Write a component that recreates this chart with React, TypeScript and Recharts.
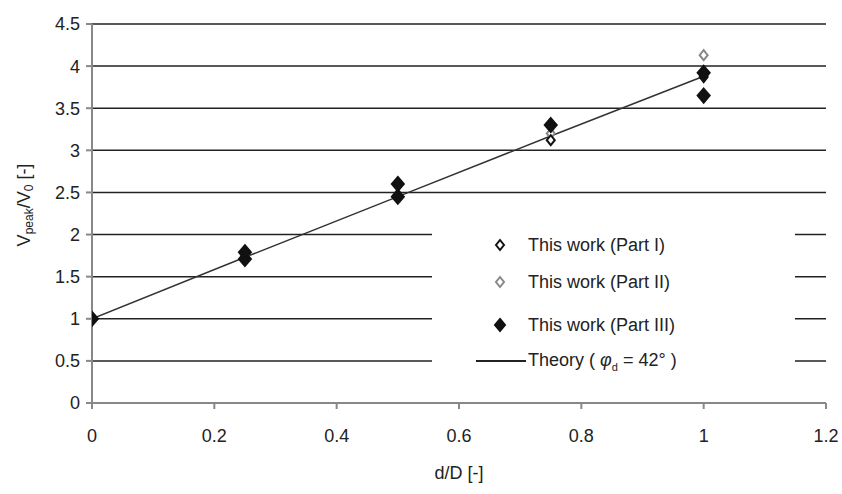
import React from 'react';
import { ComposedChart, Scatter, Line, XAxis, YAxis, CartesianGrid } from 'recharts';

const xTicks = [0, 0.2, 0.4, 0.6, 0.8, 1, 1.2];
const yTicks = [0, 0.5, 1, 1.5, 2, 2.5, 3, 3.5, 4, 4.5];

// This work (Part I) - open black diamonds
const partI = [
  { x: 0, y: 1 },
  { x: 0.25, y: 1.72 },
  { x: 0.5, y: 2.45 },
  { x: 0.75, y: 3.12 },
  { x: 1, y: 3.87 },
];

// This work (Part II) - open grey diamonds
const partII = [
  { x: 0, y: 1 },
  { x: 0.25, y: 1.75 },
  { x: 0.5, y: 2.47 },
  { x: 0.75, y: 3.2 },
  { x: 1, y: 4.13 },
];

// This work (Part III) - filled black diamonds
const partIII = [
  { x: 0, y: 1 },
  { x: 0.25, y: 1.71 },
  { x: 0.25, y: 1.79 },
  { x: 0.5, y: 2.45 },
  { x: 0.5, y: 2.6 },
  { x: 0.75, y: 3.3 },
  { x: 1, y: 3.92 },
  { x: 1, y: 3.65 },
];

// Theory (phi_d = 42 deg)
const theory = [
  { x: 0, y: 1 },
  { x: 0.25, y: 1.73 },
  { x: 0.5, y: 2.45 },
  { x: 0.75, y: 3.17 },
  { x: 1, y: 3.88 },
];

const FONT = '"Liberation Sans Narrow", "Liberation Sans", Arial, sans-serif';

const diamond = (fill: string, stroke: string, w: number, h: number) => (props: any) => {
  const { cx, cy } = props;
  if (cx == null || cy == null) return <g />;
  return (
    <polygon
      points={`${cx},${cy - h} ${cx + w},${cy} ${cx},${cy + h} ${cx - w},${cy}`}
      fill={fill}
      stroke={stroke}
      strokeWidth={2}
    />
  );
};

const Marker = ({ fill, stroke, w, h }: { fill: string; stroke: string; w: number; h: number }) => (
  <svg width={20} height={20} style={{ display: 'block' }}>
    <polygon
      points={`10,${10 - h} ${10 + w},10 10,${10 + h} ${10 - w},10`}
      fill={fill}
      stroke={stroke}
      strokeWidth={2}
    />
  </svg>
);

const rowStyle: React.CSSProperties = {
  position: 'absolute',
  left: 0,
  display: 'flex',
  alignItems: 'center',
  height: 30,
  fontFamily: FONT,
  fontSize: 18,
  color: '#222',
  whiteSpace: 'nowrap',
};

// legend box sits over the plot and hides the grid lines behind it
const LegendBox = () => (
  <div style={{ position: 'absolute', left: 432, top: 213, width: 363, height: 165, background: '#fff' }}>
    <div style={{ ...rowStyle, top: 17 }}>
      <div style={{ width: 58 }} />
      <Marker fill="#fff" stroke="#111" w={4} h={5} />
      <span style={{ marginLeft: 18 }}>This work (Part I)</span>
    </div>
    <div style={{ ...rowStyle, top: 54 }}>
      <div style={{ width: 58 }} />
      <Marker fill="#fff" stroke="#888" w={4} h={5} />
      <span style={{ marginLeft: 18 }}>This work (Part II)</span>
    </div>
    <div style={{ ...rowStyle, top: 97 }}>
      <div style={{ width: 58 }} />
      <Marker fill="#111" stroke="#111" w={5} h={6} />
      <span style={{ marginLeft: 18 }}>This work (Part III)</span>
    </div>
    <div style={{ ...rowStyle, top: 133 }}>
      <div style={{ width: 44 }} />
      <div style={{ width: 50, height: 1.5, background: '#222' }} />
      <span style={{ marginLeft: 2 }}>
        Theory ( <i>φ</i>
        <sub style={{ fontSize: 11 }}>d</sub> = 42° )
      </span>
    </div>
  </div>
);

const YLabel = () => (
  <text x={25} y={205} transform="rotate(-90 25 205)" textAnchor="middle" dominantBaseline="middle"
    fontFamily={FONT} fontSize={18} fill="#222">
    V<tspan fontSize={12} dy={5}>peak</tspan>
    <tspan dy={-5}>/V</tspan>
    <tspan fontSize={12} dy={5}>0</tspan>
    <tspan dy={-5}> [-]</tspan>
  </text>
);

const XLabel = (props: any) => {
  const { viewBox } = props;
  return (
    <text x={viewBox.x + viewBox.width / 2} y={474} textAnchor="middle" dominantBaseline="middle"
      fontFamily={FONT} fontSize={18} fill="#222">
      d/D [-]
    </text>
  );
};

export default function App() {
  return (
    <div style={{ position: 'absolute', left: 0, top: 0, width: 842, height: 494, background: '#fff' }}>
      <ComposedChart width={842} height={494} margin={{ top: 24, right: 16, bottom: 0, left: 0 }}>
        <CartesianGrid vertical={false} stroke="#222" strokeWidth={1.5} />
        <XAxis
          type="number"
          dataKey="x"
          domain={[0, 1.2]}
          ticks={xTicks}
          interval={0}
          height={91}
          stroke="#888"
          strokeWidth={2}
          tickSize={6}
          tickMargin={20}
          tick={{ fontFamily: FONT, fontSize: 18, fill: '#222' }}
          label={<XLabel />}
          allowDataOverflow
        />
        <YAxis
          type="number"
          dataKey="y"
          domain={[0, 4.5]}
          ticks={yTicks}
          interval={0}
          width={92}
          stroke="#888"
          strokeWidth={2}
          tickSize={6}
          tickMargin={6}
          tick={{ fontFamily: FONT, fontSize: 18, fill: '#222' }}
          label={<YLabel />}
        />
        <Line
          data={theory}
          dataKey="y"
          type="linear"
          stroke="#333"
          strokeWidth={1.5}
          dot={false}
          activeDot={false}
          isAnimationActive={false}
        />
        <Scatter data={partII} dataKey="y" shape={diamond('#fff', '#888', 4, 5)} isAnimationActive={false} />
        <Scatter data={partI} dataKey="y" shape={diamond('#fff', '#111', 4, 5)} isAnimationActive={false} />
        <Scatter data={partIII} dataKey="y" shape={diamond('#111', '#111', 6, 7)} isAnimationActive={false} />
      </ComposedChart>
      <LegendBox />
    </div>
  );
}
